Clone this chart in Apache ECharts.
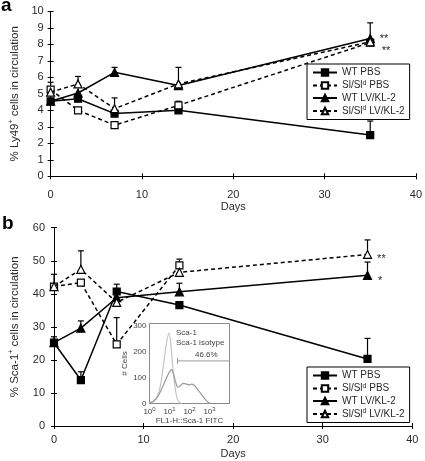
<!DOCTYPE html>
<html><head><meta charset="utf-8">
<script src="https://cdn.jsdelivr.net/npm/echarts@6/dist/echarts.min.js"></script>
<style>html,body{margin:0;padding:0;background:#fff}#c{width:425px;height:461px}</style>
</head><body><div id="c"></div>
<script>
// ---------- DATA ----------
const days = [0, 3, 7, 14, 35];
const seriesNames = ['WT PBS', 'Sl/Sl^d PBS', 'WT LV/KL-2', 'Sl/Sl^d LV/KL-2'];

// Panel a: % Ly49+ cells
const aWtPbs = [4.55, 4.7, 3.8, 4.0, 2.5];
const aSlPbs = [5.25, 4.0, 3.1, 4.3, 8.1];
const aWtLv  = [4.55, 5.05, 6.3, 5.5, 8.35];
const aSlLv  = [5.1, 5.6, 4.1, 5.6, 8.15];
const aWtPbsErr = [null, null, null, null, 3.35];
const aSlPbsErr = [5.7, null, null, 4.55, null];
const aWtLvErr  = [null, null, 6.6, null, 9.3];
const aSlLvErr  = [null, 6.05, 4.75, 6.6, null];
const aNotes = [null, null, '**', '**']; // labels at day 35

// Panel b: % Sca-1+ cells
const bWtPbs = [25.2, 13.9, 40.7, 36.6, 20.3];
const bSlPbs = [42.2, 43.4, 24.7, 48.6, null];
const bWtLv  = [25.2, 29.6, 38.8, 40.6, 45.6];
const bSlLv  = [42.2, 47.4, 37.4, 46.5, 51.9];
const bWtPbsErr = [27.0, 16.4, 42.9, null, 26.5];
const bSlPbsErr = [45.9, null, 32.8, 50.5, null];
const bWtLvErr  = [null, 31.8, null, 43.2, 49.6];
const bSlLvErr  = [null, 53.0, null, null, 56.3];
const bNotes = [null, null, '*', '**'];

// Inset histogram (FL1-H :: Sca-1 FITC)
const isoX = [1, 1.58, 2.51, 3.55, 5.01, 7.08, 9.55, 12.0, 15.1, 19.1, 24.0, 31.6, 39.8];
const isoY = [3, 10, 30, 70, 150, 235, 273, 220, 130, 60, 20, 3, 0];
const scaX = [1, 1.58, 2.51, 3.98, 6.31, 9.55, 12.6, 15.8, 20, 26.3, 35.5, 50.1, 70.8, 100, 126, 178, 251, 398, 631, 891, 1122];
const scaY = [2, 8, 25, 55, 90, 120, 131, 115, 85, 63, 70, 78, 75, 72, 75, 70, 55, 35, 15, 4, 0];
const gateX = [25, 10000];
const gateY = 165;
const gateLabel = '46.6%';

// ---------- CHART ----------
const FONT = '"Liberation Sans", Arial, Helvetica, sans-serif';
const TXT = '#2a2a2a';
const chart = echarts.init(document.getElementById('c'), null, {renderer: 'canvas'});

const styles = [
  {symbol: 'rect', size: 7, fill: '#000', dash: 'solid'},
  {symbol: 'rect', size: 7, fill: '#fff', dash: [4, 3]},
  {symbol: 'triangle', size: 8, fill: '#000', dash: 'solid'},
  {symbol: 'triangle', size: 8, fill: '#fff', dash: [4, 3]}
];

function lineSeries(idx, vals, note, noteOffset, axisIdx) {
  const st = styles[idx];
  const data = days.map((d, i) => {
    if (vals[i] === null) return null;
    const item = {value: [d, vals[i]]};
    if (i === days.length - 1 && note) {
      item.label = {show: true, formatter: note, position: 'right', distance: 4,
        offset: noteOffset, color: TXT, fontSize: 11, fontFamily: FONT};
    }
    return item;
  }).filter(x => x !== null);
  return {
    type: 'line', name: seriesNames[idx], xAxisIndex: axisIdx, yAxisIndex: axisIdx,
    data: data, symbol: st.symbol, symbolSize: st.size, showAllSymbol: true,
    lineStyle: {color: '#000', width: 1.5, type: st.dash},
    itemStyle: {color: st.fill, borderColor: '#000', borderWidth: 1.2},
    emphasis: {disabled: true}, z: 3 + idx * 0.1, animation: false
  };
}

function errSeries(tops, vals, axisIdx) {
  const data = [];
  days.forEach((d, i) => { if (tops[i] !== null && vals[i] !== null) data.push([d, vals[i], tops[i]]); });
  return {
    type: 'custom', xAxisIndex: axisIdx, yAxisIndex: axisIdx, data: data, z: 2,
    encode: {x: 0, y: [1, 2]}, silent: true, animation: false,
    renderItem: function (params, api) {
      const p0 = api.coord([api.value(0), api.value(1)]);
      const p1 = api.coord([api.value(0), api.value(2)]);
      const s = {stroke: '#000', lineWidth: 1.2};
      return {type: 'group', children: [
        {type: 'line', shape: {x1: p0[0], y1: p0[1], x2: p1[0], y2: p1[1]}, style: s},
        {type: 'line', shape: {x1: p1[0] - 3, y1: p1[1], x2: p1[0] + 3, y2: p1[1]}, style: s}
      ]};
    }
  };
}

const supFmt = n => n.replace('^d', '{sup|d}');
const rich = {sup: {fontSize: 7, fontFamily: FONT, color: TXT, padding: [0, 0, 5, 0]}};

function mainX(gridIndex, labelMargin, nameGap) {
  return {
    gridIndex, type: 'value', min: 0, max: 40, interval: 10, position: 'bottom',
    axisLine: {lineStyle: {color: '#000', width: 1}},
    axisTick: {length: 3, lineStyle: {color: '#000'}},
    splitLine: {show: false},
    axisLabel: {color: TXT, fontSize: 11, fontFamily: FONT, margin: labelMargin},
    name: 'Days', nameLocation: 'middle', nameGap: nameGap,
    nameTextStyle: {color: TXT, fontSize: 11, fontFamily: FONT}
  };
}
function crossX(gridIndex) {
  return {gridIndex, type: 'value', min: 0, max: 40, interval: 10, position: 'bottom',
    axisLine: {show: false}, axisTick: {inside: true, length: 3, lineStyle: {color: '#000'}},
    axisLabel: {show: false}, splitLine: {show: false}};
}
function mainY(gridIndex, max, interval, name, nameGap, labelMargin) {
  return {
    gridIndex, type: 'value', min: 0, max, interval, position: 'left',
    axisLine: {show: true, lineStyle: {color: '#000', width: 1}},
    axisTick: {show: true, length: 3, lineStyle: {color: '#000'}},
    splitLine: {show: false},
    axisLabel: {color: TXT, fontSize: 11, fontFamily: FONT, margin: labelMargin},
    name, nameLocation: 'middle', nameGap,
    nameTextStyle: {color: TXT, fontSize: 11.5, fontFamily: FONT,
      rich: {sup: {fontSize: 7, fontFamily: FONT, color: TXT, padding: [0, 0, 6, 0]}}}
  };
}
function crossY(gridIndex, max, interval) {
  return {gridIndex, type: 'value', min: 0, max, interval, position: 'left',
    axisLine: {show: false}, axisTick: {show: true, inside: true, length: 3, lineStyle: {color: '#000'}},
    axisLabel: {show: false}, splitLine: {show: false}};
}

const gA = {left: 45, top: 11.3, width: 378, height: 165};
const gB = {left: 48.3, top: 227.7, width: 364, height: 198.3};
const gI = {left: 149.5, top: 323.5, width: 80, height: 80, show: true,
  borderColor: '#8a8a8a', borderWidth: 1, backgroundColor: '#fff', z: 1};

const legendBase = {
  orient: 'vertical', itemWidth: 24, itemHeight: 8, itemGap: 1.5,
  padding: [3, 5, 3, 5], borderColor: '#000', borderWidth: 1, backgroundColor: '#fff',
  textStyle: {color: TXT, fontSize: 10, fontFamily: FONT, lineHeight: 11, rich: rich},
  formatter: supFmt, selectedMode: false, data: seriesNames, z: 10
};

const option = {
  animation: false,
  backgroundColor: '#fff',
  textStyle: {fontFamily: FONT},
  grid: [gA, gB, gI],
  xAxis: [
    mainX(0, 13, 23), crossX(0),
    mainX(1, 8, 22), crossX(1),
    {gridIndex: 2, type: 'log', logBase: 10, min: 1, max: 10000,
      axisLine: {lineStyle: {color: '#8a8a8a'}}, axisTick: {show: false}, splitLine: {show: false},
      axisLabel: {color: '#444', fontSize: 8, fontFamily: FONT, margin: 3,
        formatter: v => (v >= 10000 ? '' : '10{e|' + Math.round(Math.log10(v)) + '}'),
        rich: {e: {fontSize: 6, fontFamily: FONT, color: '#444', padding: [0, 0, 4, 0]}}},
      name: 'FL1-H::Sca-1 FITC', nameLocation: 'middle', nameGap: 12,
      nameTextStyle: {color: '#444', fontSize: 8, fontFamily: FONT}}
  ],
  yAxis: [
    mainY(0, 10, 1, '% Ly49{sup|+} cells in circulation', 28, 7), crossY(0, 10, 1),
    mainY(1, 60, 10, '% Sca-1{sup|+} cells in circulation', 33, 9), crossY(1, 60, 10),
    {gridIndex: 2, type: 'value', min: 0, max: 310, interval: 100,
      axisLine: {show: false}, axisTick: {show: false}, splitLine: {show: false},
      axisLabel: {color: '#444', fontSize: 8, fontFamily: FONT, margin: 3,
        formatter: v => (v % 100 === 0 ? String(v) : '')},
      name: '# Cells', nameLocation: 'middle', nameGap: 5,
      nameTextStyle: {color: '#444', fontSize: 8, fontFamily: FONT}}
  ],
  legend: [
    Object.assign({}, legendBase, {left: 307, top: 64}),
    Object.assign({}, legendBase, {left: 307, top: 367})
  ],
  series: [
    errSeries(aWtPbsErr, aWtPbs, 0), errSeries(aSlPbsErr, aSlPbs, 0),
    errSeries(aWtLvErr, aWtLv, 0), errSeries(aSlLvErr, aSlLv, 0),
    lineSeries(0, aWtPbs, aNotes[0], [0, 0], 0),
    lineSeries(1, aSlPbs, aNotes[1], [0, 0], 0),
    lineSeries(2, aWtLv, aNotes[2], [1, 0], 0),
    lineSeries(3, aSlLv, aNotes[3], [3, 9], 0),
    errSeries(bWtPbsErr, bWtPbs, 2), errSeries(bSlPbsErr, bSlPbs, 2),
    errSeries(bWtLvErr, bWtLv, 2), errSeries(bSlLvErr, bSlLv, 2),
    lineSeries(0, bWtPbs, bNotes[0], [0, 0], 2),
    lineSeries(1, bSlPbs, bNotes[1], [0, 0], 2),
    lineSeries(2, bWtLv, bNotes[2], [2, 6], 2),
    lineSeries(3, bSlLv, bNotes[3], [1, 4], 2),
    {type: 'line', xAxisIndex: 4, yAxisIndex: 4, data: isoX.map((x, i) => [x, isoY[i]]),
      symbol: 'none', smooth: 0.3, lineStyle: {color: '#c4c4c4', width: 1.2}, z: 5, silent: true},
    {type: 'line', xAxisIndex: 4, yAxisIndex: 4, data: scaX.map((x, i) => [x, scaY[i]]),
      symbol: 'none', smooth: 0.3, lineStyle: {color: '#9a9a9a', width: 1.2}, z: 5, silent: true},
    {type: 'line', xAxisIndex: 4, yAxisIndex: 4, data: gateX.map(x => [x, gateY]),
      symbol: 'none', lineStyle: {color: '#9a9a9a', width: 1}, z: 5, silent: true},
    {type: 'line', xAxisIndex: 4, yAxisIndex: 4, data: [[gateX[0], gateY - 12], [gateX[0], gateY + 12]],
      symbol: 'none', lineStyle: {color: '#9a9a9a', width: 1}, z: 5, silent: true}
  ],
  graphic: [
    {type: 'text', left: 1, top: -4, style: {text: 'a', font: 'bold 19px ' + FONT, fill: '#000'}},
    {type: 'text', left: 2, top: 214, style: {text: 'b', font: 'bold 19px ' + FONT, fill: '#000'}},
    {type: 'text', left: 176, top: 329, z: 20, style: {text: 'Sca-1', font: '8px ' + FONT, fill: '#444'}},
    {type: 'text', left: 176, top: 339, z: 20, style: {text: 'Sca-1 isotype', font: '8px ' + FONT, fill: '#444'}},
    {type: 'text', left: 195, top: 351, z: 20, style: {text: gateLabel, font: '8px ' + FONT, fill: '#444'}}
  ]
};
chart.setOption(option);
</script>
</body></html>
